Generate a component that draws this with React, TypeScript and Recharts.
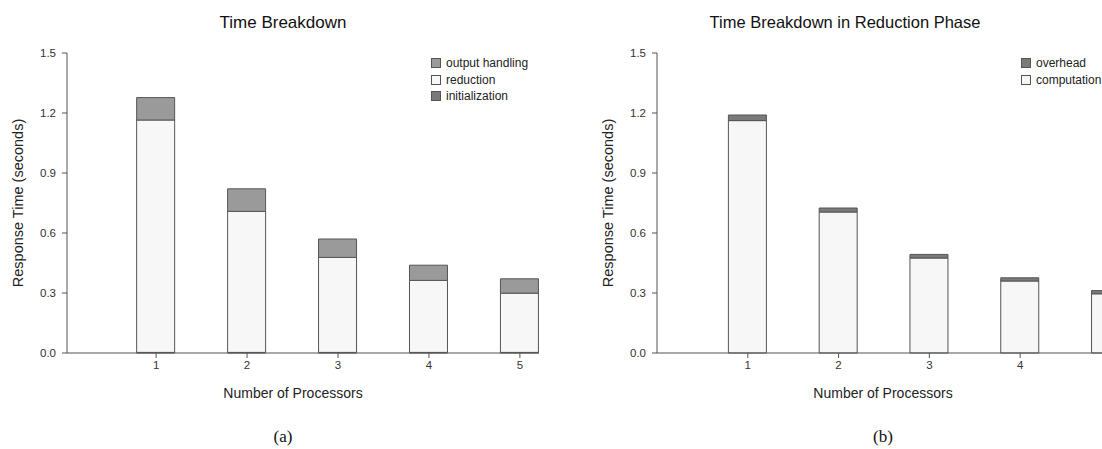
import React from 'react'
import { BarChart, Bar, XAxis, YAxis } from 'recharts'

// processors on the x axis
const processors = [1, 2, 3, 4, 5]
const xTicksA = [1, 2, 3, 4, 5]
// tick 5 of (b) falls past the right edge of the page
const xTicksB = [1, 2, 3, 4]
const yTicks = [0, 0.3, 0.6, 0.9, 1.2, 1.5]

// (a) time breakdown, seconds
const initialization = [0.003, 0.003, 0.003, 0.003, 0.003]
const reduction = [1.162, 0.705, 0.475, 0.36, 0.296]
const outputHandling = [0.112, 0.113, 0.092, 0.076, 0.072]

// (b) reduction phase, seconds
const computation = [1.162, 0.705, 0.475, 0.36, 0.296]
const overhead = [0.028, 0.02, 0.018, 0.016, 0.016]

const legendA = [
  { name: 'output handling', color: '#9a9a9a' },
  { name: 'reduction', color: '#f7f7f7' },
  { name: 'initialization', color: '#7a7a7a' },
]
const legendB = [
  { name: 'overhead', color: '#7a7a7a' },
  { name: 'computation', color: '#f7f7f7' },
]

const dataA = processors.map((p, i) => ({
  p,
  initialization: initialization[i],
  reduction: reduction[i],
  outputHandling: outputHandling[i],
}))
const dataB = processors.map((p, i) => ({
  p,
  computation: computation[i],
  overhead: overhead[i],
}))

const FONT = '"Liberation Sans", Arial, Helvetica, sans-serif'
const AXIS = '#555'
const tickStyle = { fontSize: 11.5, fill: '#333', fontFamily: FONT }

function yLabel({ viewBox }: any) {
  const x = viewBox.x + 18
  const y = viewBox.y + viewBox.height / 2
  return (
    <text
      x={x}
      y={y}
      transform={`rotate(-90 ${x} ${y})`}
      textAnchor="middle"
      dominantBaseline="central"
      fontSize={14.5}
      fontFamily={FONT}
      fill="#222"
    >
      Response Time (seconds)
    </text>
  )
}

function Legendbox({ items, left }: { items: { name: string; color: string }[]; left: number }) {
  return (
    <div style={{ position: 'absolute', left, top: 55, fontFamily: FONT, fontSize: 12, color: '#222', whiteSpace: 'nowrap' }}>
      {items.map((it) => (
        <div key={it.name} style={{ display: 'flex', alignItems: 'center', height: 16.5 }}>
          <span
            style={{
              width: 8,
              height: 8,
              background: it.color,
              border: '1px solid #555',
              marginRight: 5,
              display: 'inline-block',
            }}
          />
          {it.name}
        </div>
      ))}
    </div>
  )
}

function Panel({
  left,
  width,
  rightMargin,
  domain,
  ticks,
  data,
  title,
  titleX,
  titleSize,
  xLabelX,
  caption,
  captionX,
  legend,
  legendLeft,
  children,
}: any) {
  return (
    <div style={{ position: 'absolute', left, top: 0, width, height: 449 }}>
      <div
        style={{
          position: 'absolute',
          left: titleX - 300,
          width: 600,
          top: 13,
          textAlign: 'center',
          fontFamily: FONT,
          fontSize: titleSize,
          color: '#111',
          whiteSpace: 'nowrap',
        }}
      >
        {title}
      </div>
      <BarChart
        width={width}
        height={449}
        data={data}
        margin={{ top: 53, right: rightMargin, bottom: 66, left: 0 }}
      >
        <XAxis
          dataKey="p"
          type="number"
          domain={domain}
          ticks={ticks}
          height={30}
          stroke={AXIS}
          tickSize={5}
          tickMargin={3}
          tick={tickStyle}
          label={({ viewBox }: any) => (
            <text
              x={xLabelX}
              y={viewBox.y + 40}
              textAnchor="middle"
              dominantBaseline="central"
              fontSize={14}
              fontFamily={FONT}
              fill="#222"
            >
              Number of Processors
            </text>
          )}
        />
        <YAxis
          domain={[0, 1.5]}
          ticks={yTicks}
          width={67}
          stroke={AXIS}
          tickSize={5}
          tickMargin={6}
          tick={tickStyle}
          tickFormatter={(v: number) => v.toFixed(1)}
          label={yLabel}
        />
        {children}
      </BarChart>
      <Legendbox items={legend} left={legendLeft} />
      <div
        style={{
          position: 'absolute',
          left: captionX - 50,
          width: 100,
          top: 427,
          textAlign: 'center',
          fontFamily: '"Liberation Serif", "Times New Roman", serif',
          fontSize: 17,
          color: '#111',
        }}
      >
        {caption}
      </div>
    </div>
  )
}

export default function App() {
  return (
    <div style={{ position: 'absolute', left: 0, top: 0, width: 1102, height: 449, overflow: 'hidden', background: '#fff' }}>
      <Panel
        left={0}
        width={560}
        rightMargin={21}
        domain={[0.02, 5.21]}
        ticks={xTicksA}
        data={dataA}
        title="Time Breakdown"
        titleX={283}
        titleSize={17}
        xLabelX={293}
        caption="(a)"
        captionX={283}
        legend={legendA}
        legendLeft={431}
      >
        <Bar dataKey="initialization" stackId="a" barSize={38} fill="#7a7a7a" stroke="#555" isAnimationActive={false} />
        <Bar dataKey="reduction" stackId="a" barSize={38} fill="#f7f7f7" stroke="#555" isAnimationActive={false} />
        <Bar dataKey="outputHandling" stackId="a" barSize={38} fill="#9a9a9a" stroke="#555" isAnimationActive={false} />
      </Panel>
      <Panel
        left={590}
        width={540}
        rightMargin={0}
        domain={[0, 5.21]}
        ticks={xTicksB}
        data={dataB}
        title="Time Breakdown in Reduction Phase"
        titleX={255}
        titleSize={16.5}
        xLabelX={293}
        caption="(b)"
        captionX={293}
        legend={legendB}
        legendLeft={431}
      >
        <Bar dataKey="computation" stackId="b" barSize={38} fill="#f7f7f7" stroke="#555" isAnimationActive={false} />
        <Bar dataKey="overhead" stackId="b" barSize={38} fill="#7a7a7a" stroke="#555" isAnimationActive={false} />
      </Panel>
    </div>
  )
}
